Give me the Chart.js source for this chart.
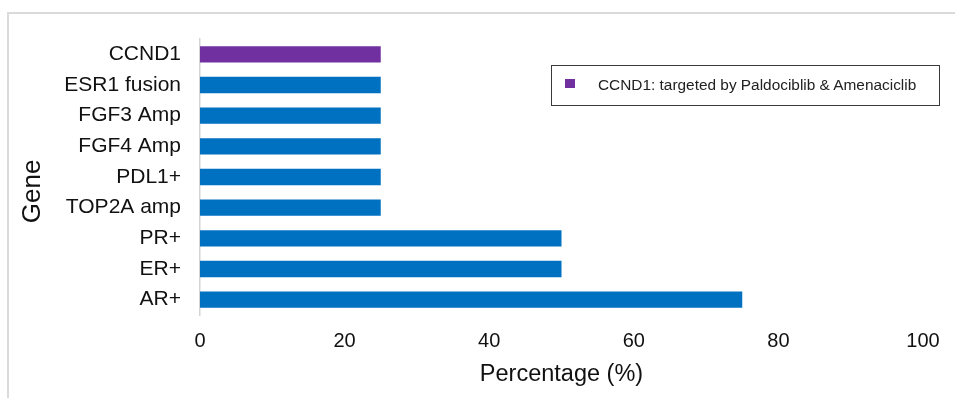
<!DOCTYPE html>
<html>
<head>
<meta charset="utf-8">
<script src="https://cdn.jsdelivr.net/npm/chart.js@4"></script>
<style>
  html, body { margin: 0; padding: 0; background: #fff; overflow: hidden; }
  #wrap { position: relative; width: 955px; height: 398px; }
  #frame { position: absolute; left: 7px; top: 12px; width: 1000px; height: 500px;
           border-top: 2px solid #dadada; border-left: 2px solid #dadada; }
  #legend { position: absolute; left: 551px; top: 65px; width: 389px; height: 41px;
            border: 1px solid #3a3a3a; font-family: "Liberation Sans", Arial, sans-serif;
            font-size: 15.4px; color: #222; box-sizing: border-box; }
  .item { position: absolute; left: 13px; top: 10px; white-space: nowrap; }
  .swatch { display: inline-block; width: 10px; height: 9px; margin-right: 23px; vertical-align: 2px; }
</style>
</head>
<body>
<div id="wrap">
  <div id="frame"></div>
  <canvas id="geneChart" width="955" height="398"></canvas>
  <div id="legend"></div>
</div>
<script>
// Data
const genes = ['CCND1', 'ESR1 fusion', 'FGF3 Amp', 'FGF4 Amp', 'PDL1+', 'TOP2A amp', 'PR+', 'ER+', 'AR+'];
const percentages = [25, 25, 25, 25, 25, 25, 50, 50, 75];
const targeted = ['CCND1'];
const legendLabels = ['CCND1: targeted by Paldociblib & Amenaciclib'];
const xTicks = [0, 20, 40, 60, 80, 100];

const blue = '#0070C0';
const purple = '#7030A0';
const barColors = genes.map(g => targeted.includes(g) ? purple : blue);

// Legend (HTML, boxed like the original)
const legend = document.getElementById('legend');
legendLabels.forEach(text => {
    const item = document.createElement('div');
    item.className = 'item';
    const sw = document.createElement('span');
    sw.className = 'swatch';
    sw.style.background = purple;
    item.appendChild(sw);
    item.appendChild(document.createTextNode(text));
    legend.appendChild(item);
});

const ctx = document.getElementById('geneChart').getContext('2d');
new Chart(ctx, {
    type: 'bar',
    data: {
        labels: genes,
        datasets: [{
            label: 'Percentage',
            data: percentages,
            backgroundColor: barColors,
            borderWidth: 0,
            categoryPercentage: 1,
            barPercentage: 0.53
        }]
    },
    options: {
        indexAxis: 'y',
        responsive: false,
        animation: false,
        layout: { padding: { left: 16, right: 32, top: 39, bottom: 0 } },
        plugins: {
            legend: { display: false },
            tooltip: { enabled: false }
        },
        scales: {
            x: {
                min: 0,
                max: 100,
                afterBuildTicks: scale => { scale.ticks = xTicks.map(v => ({ value: v })); },
                afterFit: scale => { scale.height = 398 - 315; },
                grid: { display: false, drawTicks: false },
                border: { display: false },
                ticks: {
                    padding: 14,
                    color: '#111',
                    font: { family: 'Liberation Sans', size: 20 }
                },
                title: {
                    display: true,
                    text: 'Percentage (%)',
                    color: '#111',
                    padding: { top: 10, bottom: 9 },
                    font: { family: 'Liberation Sans', size: 23.5 }
                }
            },
            y: {
                afterFit: scale => { scale.width = 200 - 16; },
                grid: { display: false, drawTicks: false },
                border: { display: true, color: '#d4d4d4', width: 1.5 },
                ticks: {
                    padding: 19,
                    color: '#111',
                    font: { family: 'Liberation Sans', size: 21 }
                },
                title: {
                    display: true,
                    text: 'Gene    ',
                    color: '#111',
                    padding: { top: 1, bottom: 0 },
                    font: { family: 'Liberation Sans', size: 26 }
                }
            }
        }
    }
});
</script>
</body>
</html>
